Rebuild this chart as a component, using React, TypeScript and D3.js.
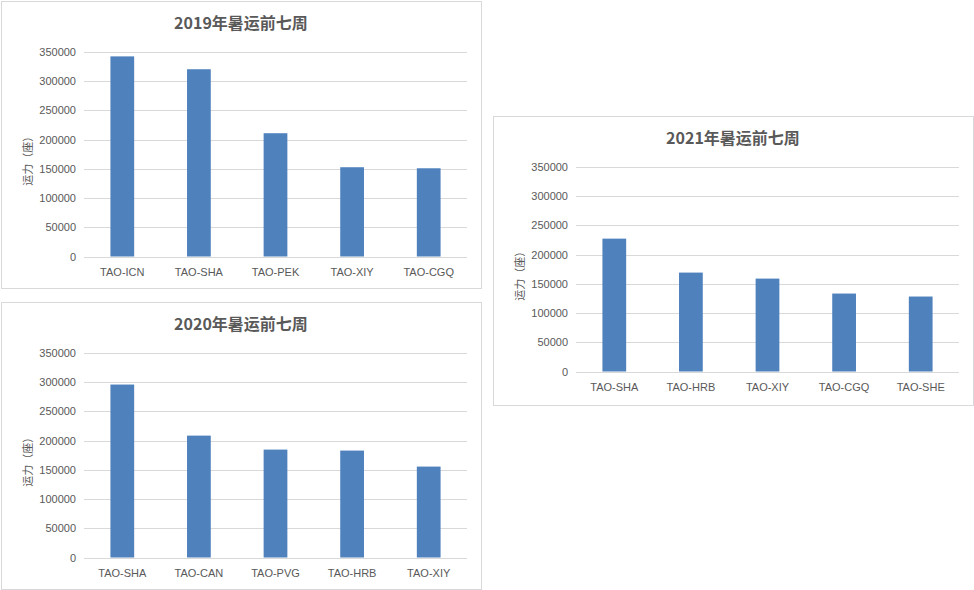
import React from 'react';
import * as d3 from 'd3';

// chart data
const titles2019 = '2019年暑运前七周';
const routes2019 = ['TAO-ICN', 'TAO-SHA', 'TAO-PEK', 'TAO-XIY', 'TAO-CGQ'];
const seats2019 = [342500, 320500, 211000, 152800, 151000];

const titles2020 = '2020年暑运前七周';
const routes2020 = ['TAO-SHA', 'TAO-CAN', 'TAO-PVG', 'TAO-HRB', 'TAO-XIY'];
const seats2020 = [296000, 208600, 184700, 183000, 155600];

const titles2021 = '2021年暑运前七周';
const routes2021 = ['TAO-SHA', 'TAO-HRB', 'TAO-XIY', 'TAO-CGQ', 'TAO-SHE'];
const seats2021 = [227400, 169300, 159000, 133400, 128300];

const yTicks = [0, 50000, 100000, 150000, 200000, 250000, 300000, 350000];
const yLabel = '运力（座）';

const textColor = '#595959';
const gridColor = '#d9d9d9';
const barColor = '#4f81bd';
const sansFont = '"Liberation Sans", Arial, "Noto Sans CJK SC", sans-serif';

interface BarPanelProps {
  x: number;
  y: number;
  w: number;
  h: number;
  title: string;
  routes: string[];
  values: number[];
}

const BarPanel: React.FC<BarPanelProps> = ({ x, y, w, h, title, routes, values }) => {
  const plot = { left: 83, right: w - 14, top: 51, bottom: 255.5 };

  const xScale = d3.scaleBand<string>()
    .domain(routes)
    .range([plot.left, plot.right])
    .paddingInner(0.69)
    .paddingOuter(0.345);

  const yScale = d3.scaleLinear()
    .domain([0, 350000])
    .range([plot.bottom, plot.top]);

  return (
    <g transform={`translate(${x},${y})`}>
      <rect x={0.5} y={0.5} width={w} height={h} fill="#fff" stroke={gridColor} strokeWidth={1} />

      <text
        x={w / 2}
        y={21}
        textAnchor="middle"
        dominantBaseline="central"
        fontFamily='"Noto Sans CJK SC", sans-serif'
        fontWeight="bold"
        fontSize={16}
        fill={textColor}
      >
        {title}
      </text>

      {/* grid + y ticks */}
      {yTicks.map(t => (
        <g key={t}>
          <line
            x1={plot.left}
            x2={plot.right}
            y1={Math.round(yScale(t)) + 0.5}
            y2={Math.round(yScale(t)) + 0.5}
            stroke={gridColor}
            strokeWidth={1}
          />
          <text
            x={plot.left - 8}
            y={yScale(t)}
            textAnchor="end"
            dominantBaseline="central"
            fontFamily={sansFont}
            fontSize={11}
            fill={textColor}
          >
            {t}
          </text>
        </g>
      ))}

      <text
        transform={`translate(26,${(plot.top + plot.bottom) / 2 + 4}) rotate(-90)`}
        textAnchor="middle"
        dominantBaseline="central"
        fontFamily='"Noto Sans CJK SC", sans-serif'
        fontSize={11}
        fill={textColor}
      >
        {yLabel}
      </text>

      {/* bars */}
      {routes.map((r, i) => (
        <rect
          key={r}
          x={xScale(r)}
          y={yScale(values[i])}
          width={xScale.bandwidth()}
          height={plot.bottom - yScale(values[i])}
          fill={barColor}
        />
      ))}

      {/* x labels */}
      {routes.map(r => (
        <text
          key={r}
          x={(xScale(r) ?? 0) + xScale.bandwidth() / 2}
          y={270.5}
          textAnchor="middle"
          dominantBaseline="central"
          fontFamily={sansFont}
          fontSize={11}
          fill={textColor}
        >
          {r}
        </text>
      ))}
    </g>
  );
};

export default function App() {
  return (
    <svg
      width={974}
      height={590}
      viewBox="0 0 974 590"
      style={{ position: 'absolute', left: 0, top: 0, background: '#fff' }}
    >
      <BarPanel x={1} y={1} w={480} h={287} title={titles2019} routes={routes2019} values={seats2019} />
      <BarPanel x={1} y={302} w={480} h={287} title={titles2020} routes={routes2020} values={seats2020} />
      <BarPanel x={493} y={116} w={480} h={289} title={titles2021} routes={routes2021} values={seats2021} />
    </svg>
  );
}
